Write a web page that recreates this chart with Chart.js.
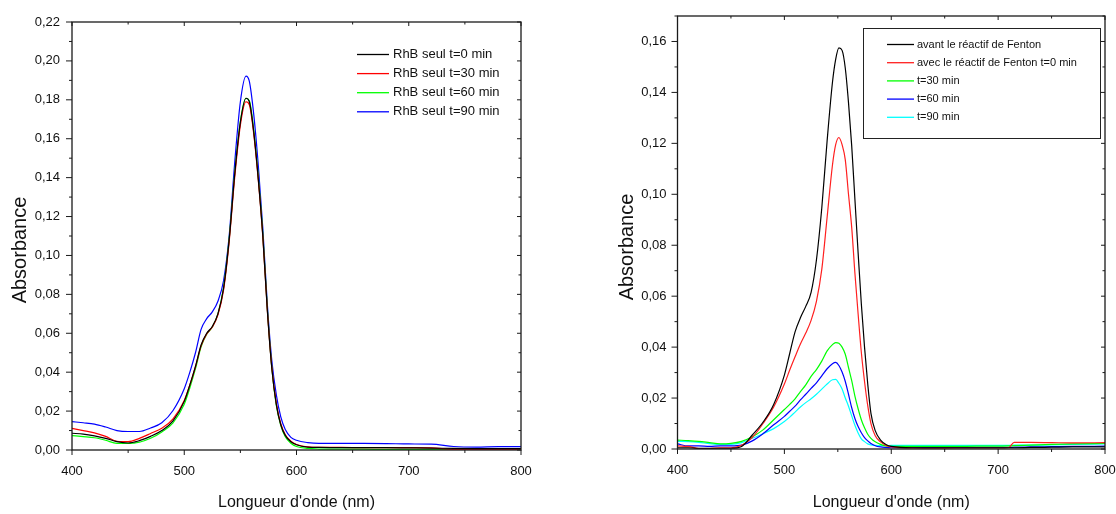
<!DOCTYPE html>
<html>
<head>
<meta charset="utf-8">
<script src="https://cdn.jsdelivr.net/npm/chart.js@4.4.0/dist/chart.umd.min.js"></script>
<style>
  html, body { margin: 0; padding: 0; background: #fff; }
  body { width: 1116px; height: 514px; position: relative; overflow: hidden; }
  .bloc { position: absolute; top: 0; height: 514px; }
  #blocA { left: 0; width: 560px; }
  #blocB { left: 606px; width: 510px; }
</style>
</head>
<body>
<div class="bloc" id="blocA"><canvas id="chartA"></canvas></div>
<div class="bloc" id="blocB"><canvas id="chartB"></canvas></div>
<script>
// --- données ---
const longueursA = [400, 410, 420, 430, 440, 450, 460, 470, 480, 490, 500,
  505, 510, 515, 520, 525, 530, 535, 540, 545, 550, 555, 558, 562, 566, 570,
  574, 578, 582, 586, 590, 595, 600, 610, 620, 640, 660, 680, 700, 720, 740,
  760, 780, 800];
const rhb0 = [0.0086, 0.0082, 0.0073, 0.0060, 0.0043, 0.0036, 0.0048, 0.0070, 0.0100, 0.0150, 0.0250,
  0.0335, 0.0430, 0.0540, 0.0600, 0.0635, 0.0700, 0.0830, 0.1080, 0.1420, 0.1685, 0.1808, 0.1790, 0.1630, 0.1390, 0.1100,
  0.0720, 0.0420, 0.0235, 0.0130, 0.0075, 0.0042, 0.0027, 0.0015, 0.0013, 0.0012, 0.0012, 0.0012, 0.0011, 0.0010, 0.0008,
  0.0007, 0.0007, 0.0007];
const rhb30 = [0.0111, 0.0100, 0.0088, 0.0070, 0.0045, 0.0043, 0.0060, 0.0085, 0.0112, 0.0160, 0.0255,
  0.0335, 0.0428, 0.0535, 0.0597, 0.0632, 0.0695, 0.0822, 0.1070, 0.1405, 0.1670, 0.1790, 0.1775, 0.1620, 0.1385, 0.1095,
  0.0720, 0.0425, 0.0240, 0.0135, 0.0078, 0.0045, 0.0028, 0.0016, 0.0013, 0.0013, 0.0012, 0.0012, 0.0012, 0.0011, 0.0003,
  0.0003, 0.0003, 0.0003];
const rhb60 = [0.0074, 0.0069, 0.0063, 0.0050, 0.0034, 0.0034, 0.0040, 0.0060, 0.0093, 0.0140, 0.0235,
  0.0320, 0.0418, 0.0530, 0.0595, 0.0632, 0.0700, 0.0835, 0.1085, 0.1425, 0.1690, 0.1808, 0.1795, 0.1640, 0.1400, 0.1110,
  0.0730, 0.0425, 0.0230, 0.0125, 0.0068, 0.0035, 0.0018, 0.0008, 0.0005, 0.0004, 0.0004, 0.0003, 0.0003, 0.0003, 0.0003,
  0.0003, 0.0003, 0.0003];
const rhb90 = [0.0146, 0.0140, 0.0133, 0.0118, 0.0100, 0.0095, 0.0095, 0.0113, 0.0140, 0.0203, 0.0315,
  0.0400, 0.0500, 0.0620, 0.0675, 0.0710, 0.0765, 0.0870, 0.1100, 0.1480, 0.1790, 0.1922, 0.1895, 0.1720, 0.1460, 0.1140,
  0.0750, 0.0460, 0.0285, 0.0170, 0.0105, 0.0065, 0.0050, 0.0038, 0.0034, 0.0034, 0.0034, 0.0033, 0.0031, 0.0030, 0.0018,
  0.0015, 0.0017, 0.0017];

const longueursB = [400, 410, 420, 430, 440, 450, 460, 470, 480, 490, 500,
  505, 510, 515, 520, 525, 530, 535, 540, 545,
  548, 551, 554, 557, 560, 563, 566, 569, 572, 575, 578, 581,
  585, 590, 595, 600,
  620, 640, 660, 680, 700,
  710, 715, 730, 750, 770, 800];
const avantFenton = [0.0005, 0.0005, 0.0003, 0.0003, 0.0003, 0.0003, 0.0010, 0.0055, 0.0105, 0.0175, 0.0290,
  0.0375, 0.0460, 0.0515, 0.0560, 0.0615, 0.0742, 0.0946, 0.1210, 0.1440,
  0.1530, 0.1575, 0.1565, 0.1495, 0.1360, 0.1190, 0.0980, 0.0770, 0.0570, 0.0400, 0.0255, 0.0140,
  0.0072, 0.0035, 0.0018, 0.0010,
  0.0005, 0.0005, 0.0005, 0.0005, 0.0005,
  0.0005, 0.0005, 0.0006, 0.0007, 0.0008, 0.0008];
const fentonT0 = [0.0012, 0.0010, 0.0002, 0.0002, 0.0005, 0.0005, 0.0015, 0.0045, 0.0100, 0.0165, 0.0255,
  0.0310, 0.0362, 0.0412, 0.0455, 0.0505, 0.0580, 0.0705, 0.0910, 0.1115,
  0.1195, 0.1223, 0.1195, 0.1135, 0.1000, 0.0870, 0.0690, 0.0530, 0.0380, 0.0265, 0.0170, 0.0100,
  0.0052, 0.0028, 0.0014, 0.0008,
  0.0004, 0.0003, 0.0004, 0.0004, 0.0004,
  0.0006, 0.0026, 0.0026, 0.0025, 0.0024, 0.0025];
const fentonT30 = [0.0035, 0.0033, 0.0030, 0.0025, 0.0020, 0.0022, 0.0030, 0.0048, 0.0075, 0.0115, 0.0155,
  0.0175, 0.0197, 0.0225, 0.0252, 0.0285, 0.0312, 0.0345, 0.0385, 0.0410,
  0.0418, 0.0415, 0.0400, 0.0372, 0.0320, 0.0268, 0.0208, 0.0158, 0.0115, 0.0083, 0.0058, 0.0042,
  0.0028, 0.0018, 0.0012, 0.0010,
  0.0010, 0.0010, 0.0010, 0.0011, 0.0011,
  0.0012, 0.0013, 0.0015, 0.0018, 0.0020, 0.0022];
const fentonT60 = [0.0020, 0.0012, 0.0012, 0.0010, 0.0012, 0.0012, 0.0015, 0.0032, 0.0060, 0.0095, 0.0128,
  0.0148, 0.0168, 0.0193, 0.0215, 0.0238, 0.0260, 0.0287, 0.0315, 0.0335,
  0.0340, 0.0328, 0.0302, 0.0265, 0.0215, 0.0162, 0.0120, 0.0088, 0.0064, 0.0045, 0.0032, 0.0022,
  0.0013, 0.0008, 0.0006, 0.0005,
  0.0006, 0.0006, 0.0006, 0.0006, 0.0006,
  0.0006, 0.0007, 0.0008, 0.0009, 0.0010, 0.0011];
const fentonT90 = [0.0030, 0.0029, 0.0026, 0.0021, 0.0018, 0.0018, 0.0025, 0.0042, 0.0060, 0.0080, 0.0108,
  0.0125, 0.0145, 0.0165, 0.0182, 0.0197, 0.0215, 0.0235, 0.0255, 0.0272,
  0.0273, 0.0258, 0.0236, 0.0200, 0.0168, 0.0130, 0.0093, 0.0063, 0.0040, 0.0029, 0.0020, 0.0016,
  0.0014, 0.0013, 0.0013, 0.0014,
  0.0014, 0.0014, 0.0014, 0.0014, 0.0014,
  0.0014, 0.0015, 0.0015, 0.0016, 0.0018, 0.0020];

const legendeA = ['RhB seul t=0 min', 'RhB seul t=30 min', 'RhB seul t=60 min', 'RhB seul t=90 min'];
const legendeB = ['avant le réactif de Fenton', 'avec le réactif de Fenton t=0 min', 't=30 min', 't=60 min', 't=90 min'];
const couleursA = ['#000000', '#ff0000', '#00ff00', '#0000ff'];
const couleursB = ['#000000', '#ff2020', '#00ff00', '#0000ff', '#00ffff'];
const graduationsX = [400, 500, 600, 700, 800];

const police = "'Liberation Sans', Arial, sans-serif";

function points(xs, ys) {
  return xs.map((v, i) => ({ x: v, y: ys[i] }));
}

function virgule(v) {
  return v.toFixed(2).replace('.', ',');
}

// cadre, petites graduations et titre vertical
const cadre = {
  id: 'cadre',
  afterDraw(chart, args, opts) {
    const { ctx, chartArea: a, scales: { x, y } } = chart;
    ctx.save();
    ctx.strokeStyle = '#1a1a1a';
    ctx.lineWidth = 1.3;
    ctx.strokeRect(a.left, a.top, a.right - a.left, a.bottom - a.top);
    ctx.lineWidth = 1;
    ctx.beginPath();
    x.ticks.forEach(t => {
      const px = x.getPixelForValue(t.value);
      const major = graduationsX.includes(t.value);
      ctx.moveTo(px, a.bottom); ctx.lineTo(px, a.bottom + (major ? 5 : 3));
      ctx.moveTo(px, a.top); ctx.lineTo(px, a.top + (major ? 4 : 2.5));
    });
    y.ticks.forEach(t => {
      const py = y.getPixelForValue(t.value);
      const major = Math.round(t.value * 100) % 2 === 0;
      ctx.moveTo(a.left, py); ctx.lineTo(a.left - (major ? 6 : 3), py);
      ctx.moveTo(a.right, py); ctx.lineTo(a.right - (major ? 4 : 2.5), py);
    });
    ctx.stroke();

    // titre de l'axe Y
    ctx.translate(opts.titreX, opts.titreY);
    ctx.rotate(-Math.PI / 2);
    ctx.fillStyle = '#111';
    ctx.font = '20px ' + police;
    ctx.textAlign = 'center';
    ctx.textBaseline = 'middle';
    ctx.fillText('Absorbance', 0, 0);
    ctx.restore();
  }
};

// légende dessinée à partir des datasets
const legende = {
  id: 'legende',
  afterDraw(chart, args, opts) {
    const ctx = chart.ctx;
    ctx.save();
    if (opts.boite) {
      ctx.strokeStyle = '#222';
      ctx.lineWidth = 1;
      ctx.strokeRect(opts.boite[0] + 0.5, opts.boite[1] + 0.5, opts.boite[2], opts.boite[3]);
    }
    ctx.font = opts.taille + 'px ' + police;
    ctx.textBaseline = 'middle';
    ctx.fillStyle = '#111';
    chart.data.datasets.forEach((ds, i) => {
      const yy = opts.y0 + i * opts.pas;
      ctx.strokeStyle = ds.borderColor;
      ctx.lineWidth = 1.3;
      ctx.beginPath();
      ctx.moveTo(opts.x0, yy);
      ctx.lineTo(opts.x1, yy);
      ctx.stroke();
      ctx.fillText(ds.label, opts.xt, yy);
    });
    ctx.restore();
  }
};

function faireGraphe(id, longueurs, series, noms, couleurs, conf) {
  const datasets = series.map((s, i) => ({
    label: noms[i],
    data: points(longueurs, s),
    borderColor: couleurs[i],
    borderWidth: 1.2,
    pointRadius: 0,
    cubicInterpolationMode: 'monotone',
    fill: false,
    order: i === 0 ? -1 : i   // courbe noire au-dessus
  }));

  return new Chart(document.getElementById(id), {
    type: 'line',
    data: { datasets: datasets },
    options: {
      responsive: true,
      maintainAspectRatio: false,
      animation: false,
      layout: { padding: { top: conf.haut, right: conf.droite, left: 0, bottom: 0 } },
      plugins: {
        legend: { display: false },
        tooltip: { enabled: false },
        cadre: { titreX: conf.titreX, titreY: conf.titreY },
        legende: conf.legende
      },
      scales: {
        x: {
          type: 'linear',
          min: 400,
          max: 800,
          grid: { display: false, drawTicks: false },
          border: { display: false },
          afterFit: s => {
            s.height = conf.hauteurX;
            s.paddingLeft = 0;
            s.paddingRight = 0;
          },
          ticks: {
            stepSize: 50,
            autoSkip: false,
            maxRotation: 0,
            padding: 14,
            color: '#111',
            font: { family: police, size: 13 },
            callback: v => graduationsX.includes(v) ? String(v) : ''
          },
          title: {
            display: true,
            text: "Longueur d'onde (nm)",
            color: '#111',
            font: { family: police, size: 16 },
            padding: { top: 0, bottom: 1.5 }
          }
        },
        y: {
          min: 0,
          max: conf.maxY,
          grid: { display: false, drawTicks: false },
          border: { display: false },
          afterFit: s => {
            s.width = conf.largeurY;
            s.paddingTop = 0;
            s.paddingBottom = 0;
          },
          ticks: {
            stepSize: 0.01,
            padding: conf.padY,
            color: '#111',
            font: { family: police, size: 13 },
            callback: v => Math.round(v * 100) % 2 === 0 ? virgule(v) : ''
          }
        }
      }
    },
    plugins: [cadre, legende]
  });
}

document.addEventListener('DOMContentLoaded', function() {
  faireGraphe('chartA', longueursA, [rhb0, rhb30, rhb60, rhb90], legendeA, couleursA, {
    haut: 22, droite: 39, hauteurX: 64, largeurY: 72, maxY: 0.22, padY: 12,
    titreX: 20, titreY: 250,
    legende: { x0: 357, x1: 389, xt: 393, y0: 54.5, pas: 19.1, taille: 13 }
  });
  faireGraphe('chartB', longueursB, [avantFenton, fentonT0, fentonT30, fentonT60, fentonT90], legendeB, couleursB, {
    haut: 16, droite: 11, hauteurX: 65, largeurY: 71.5, maxY: 0.17, padY: 11,
    titreX: 21, titreY: 247,
    legende: { x0: 281, x1: 308, xt: 311, y0: 44.5, pas: 18.2, taille: 11, boite: [257, 28, 237, 110] }
  });
});
</script>
</body>
</html>
